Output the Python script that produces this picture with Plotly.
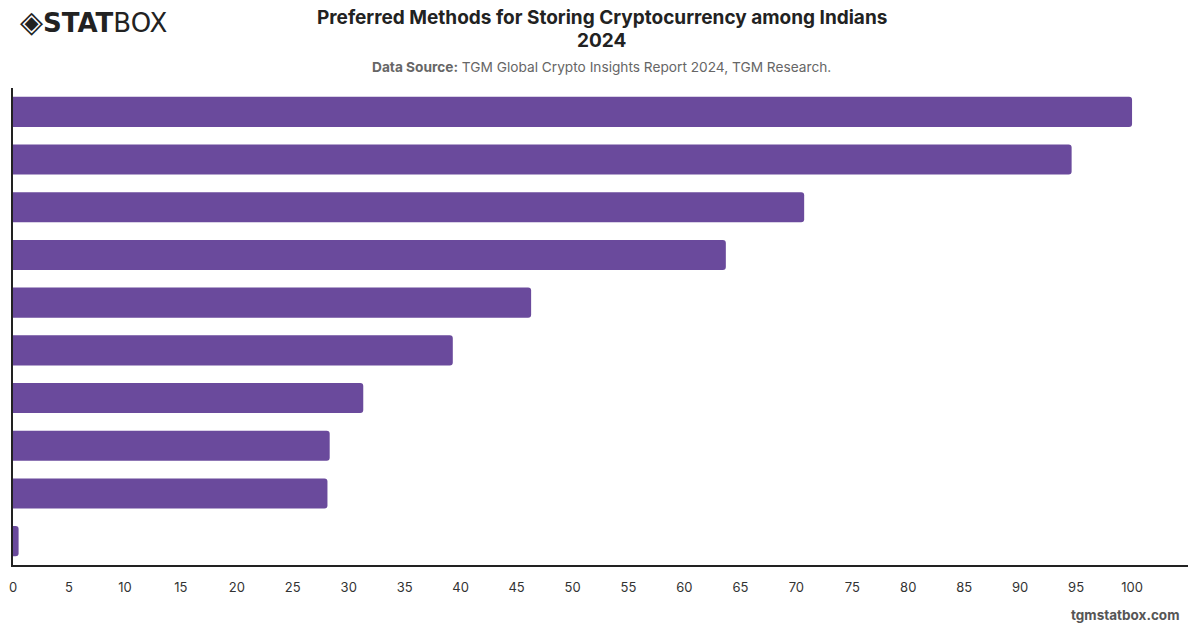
import plotly.graph_objects as go

categories = [
    "Exchange wallet", "Mobile wallet app", "Hardware wallet", "Desktop wallet",
    "Web wallet", "Paper wallet", "Custodial service", "Bank / broker",
    "Multi-sig wallet", "Other"
]
values = [100, 94.6, 70.7, 63.7, 46.3, 39.3, 31.3, 28.3, 28.1, 0.5]
tick_vals = list(range(0, 101, 5))

BAR_COLOR = "#6a4a9c"
FONT = "Inter, Helvetica, Arial, sans-serif"

L, R, T, B = 9, 12, 88, 63
W, H = 1200, 628
plot_w = W - L - R
plot_h = H - T - B

fig = go.Figure(go.Bar(
    x=values, y=categories, orientation="h",
    marker=dict(color=BAR_COLOR, cornerradius=3, line=dict(width=0)),
    width=0.63, hoverinfo="x+y",
))

fig.update_layout(
    width=W, height=H,
    margin=dict(l=L, r=R, t=T, b=B),
    paper_bgcolor="white", plot_bgcolor="white",
    showlegend=False,
    font=dict(family=FONT, color="#333"),
    xaxis=dict(
        range=[0, 105], tickvals=tick_vals, showgrid=False, zeroline=False,
        showline=True, linecolor="#222", linewidth=1.5,
        tickfont=dict(size=13, color="#333"), ticks="", ticklabelstandoff=10,
        fixedrange=True,
    ),
    yaxis=dict(
        categoryorder="array", categoryarray=categories, autorange="reversed",
        showticklabels=False, showgrid=False, zeroline=False,
        showline=True, linecolor="#222", linewidth=1.5, ticks="",
    ),
    bargap=0.37,
)


def px_x(x):
    return (x - L) / plot_w


def px_y(y):
    return 1 + (T - y) / plot_h


anns = [
    dict(text="<b>Preferred Methods for Storing Cryptocurrency among Indians</b>",
         x=px_x(600), y=px_y(18), font=dict(size=19, color="#222", family=FONT)),
    dict(text="<b>2024</b>", x=px_x(600), y=px_y(40),
         font=dict(size=19, color="#222", family=FONT)),
    dict(text="<b>Data Source:</b> TGM Global Crypto Insights Report 2024, TGM Research.",
         x=px_x(600), y=px_y(67), font=dict(size=13.7, color="#666", family=FONT)),
]
for a in anns:
    a.update(xref="paper", yref="paper", xanchor="center", yanchor="middle",
             showarrow=False)

# logo
anns.append(dict(
    text="<span style='font-size:30px'>◈</span><b>STAT</b>BOX",
    x=px_x(14), y=px_y(21), xref="paper", yref="paper",
    xanchor="left", yanchor="middle", showarrow=False,
    font=dict(size=26, color="#222", family="Arial Black, DejaVu Sans, sans-serif"),
))
# watermark
anns.append(dict(
    text="<b>tgmstatbox.com</b>",
    x=px_x(1181), y=px_y(615), xref="paper", yref="paper",
    xanchor="right", yanchor="middle", showarrow=False,
    font=dict(size=13.5, color="#555", family=FONT),
))
fig.update_layout(annotations=anns)

fig.write_html("out.html")
